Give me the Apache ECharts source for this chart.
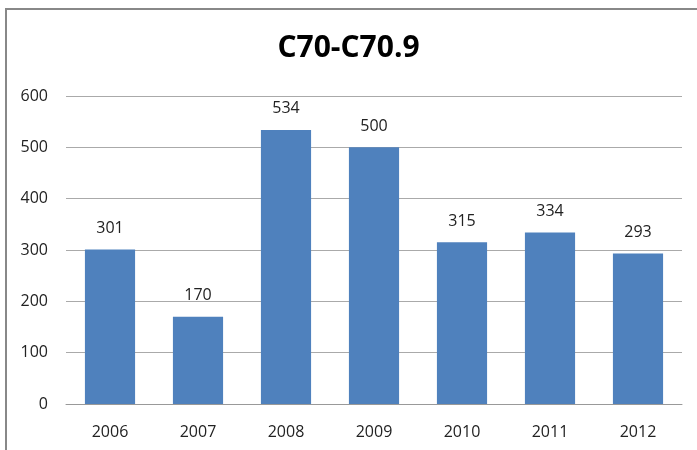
<!DOCTYPE html>
<html>
<head>
<meta charset="utf-8">
<script src="https://cdn.jsdelivr.net/npm/echarts@6/dist/echarts.min.js"></script>
<style>
	html, body { margin: 0; padding: 0; background: #fff; overflow: hidden; width: 697px; height: 450px; }
	#frame { position: absolute; left: 5px; top: 8px; width: 800px; height: 500px; border: 2px solid #888; box-sizing: border-box; }
	#chart { position: absolute; left: 0; top: 0; width: 697px; height: 450px; }
</style>
</head>
<body>
<div id="frame"></div>
<div id="chart"></div>
<script>
// 年份和数值
var years = ['2006', '2007', '2008', '2009', '2010', '2011', '2012'];
var counts = [301, 170, 534, 500, 315, 334, 293];
var yTicks = [0, 600, 100]; // min, max, interval

var myChart = echarts.init(document.getElementById('chart'));
myChart.setOption({
	animation: false,
	title: {
		text: 'C70-C70.9',
		left: 'center',
		top: 28,
		textStyle: {
			fontFamily: 'Open Sans',
			fontWeight: 'bold',
			fontSize: 30,
			color: '#000'
		}
	},
	grid: {
		left: 66,
		right: 15,
		top: 96,
		bottom: 46
	},
	xAxis: {
		type: 'category',
		data: years,
		axisTick: { show: false },
		axisLine: {
			lineStyle: { color: '#999', width: 1 }
		},
		axisLabel: {
			margin: 20,
			fontFamily: 'Open Sans',
			fontSize: 16,
			color: '#222'
		}
	},
	yAxis: {
		type: 'value',
		min: yTicks[0],
		max: yTicks[1],
		interval: yTicks[2],
		axisLine: { show: false },
		axisTick: { show: false },
		splitLine: {
			lineStyle: { color: '#aaa', width: 1 }
		},
		axisLabel: {
			margin: 18,
			fontFamily: 'Open Sans',
			fontSize: 16,
			color: '#222'
		}
	},
	series: [{
		type: 'bar',
		data: counts,
		barWidth: '57%',
		itemStyle: {
			color: '#4f81bd'
		},
		label: {
			show: true,
			position: 'top',
			distance: 13,
			fontFamily: 'Open Sans',
			fontSize: 16,
			color: '#222'
		}
	}]
});
</script>
</body>
</html>
